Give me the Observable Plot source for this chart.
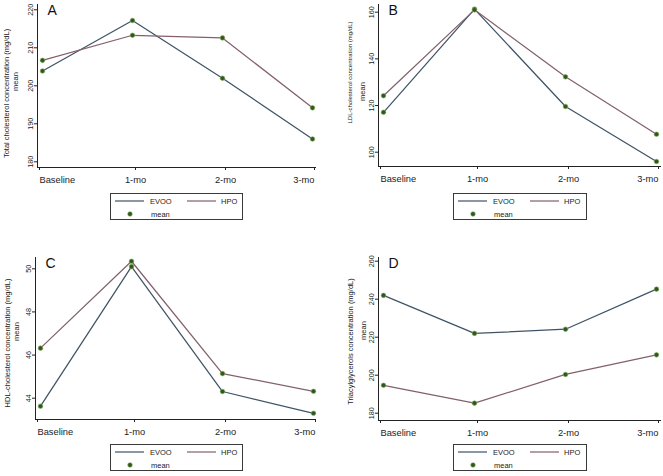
<!DOCTYPE html>
<html>
<head>
<meta charset="utf-8">
<script src="https://cdn.jsdelivr.net/npm/d3@7"></script>
<script src="https://cdn.jsdelivr.net/npm/@observablehq/plot@0.6"></script>
<style>
  html, body { margin: 0; padding: 0; background: #fff; }
  #root { position: relative; width: 663px; height: 476px; overflow: hidden; background: #fff; font-family: "Liberation Sans", Arial, sans-serif; }
  .panel { position: absolute; }
  .legend { position: absolute; border: 1px solid #3a3a3a; background: #fff; box-sizing: border-box; }
  .legend svg { position: absolute; left: 0; top: 0; }
</style>
</head>
<body>
<div id="root"></div>
<script>
// ---- Data ----
const times = ["Baseline", "1-mo", "2-mo", "3-mo"];
const seriesNames = ["EVOO", "HPO"];

const evooTotal = [203.9, 217.2, 202.0, 186.0];
const hpoTotal  = [206.7, 213.3, 212.6, 194.2];

const evooLDL = [117.1, 161.3, 119.6, 96.0];
const hpoLDL  = [124.2, 161.0, 132.3, 107.7];

const evooHDL = [43.63, 50.10, 44.31, 43.30];
const hpoHDL  = [46.32, 50.35, 45.14, 44.32];

const evooTG = [242.0, 222.0, 224.2, 245.3];
const hpoTG  = [194.7, 185.3, 200.4, 210.7];

const ticksTotal = [180, 190, 200, 210, 220];
const ticksLDL = [100, 120, 140, 160];
const ticksHDL = [44, 46, 48, 50];
const ticksTG = [180, 200, 220, 240, 260];

const titles = [
  "Total cholesterol concentration (mg/dL)",
  "LDL-cholesterol concentration (mg/dL)",
  "HDL-cholesterol concentration (mg/dL)",
  "Triacylglycerols concentration (mg/dL)"
];
const letters = ["A", "B", "C", "D"];
const meanLabel = "mean";

// ---- Styling ----
const colors = {EVOO: "#3f5466", HPO: "#83606c"};
const dotFill = "#2c5a1c";
const dotStroke = "#86a85a";
const font = "'Liberation Sans', Arial, sans-serif";

function toRows(evoo, hpo) {
  const rows = [];
  times.forEach((t, i) => rows.push({time: t, value: evoo[i], series: "EVOO"}));
  times.forEach((t, i) => rows.push({time: t, value: hpo[i], series: "HPO"}));
  return rows;
}

const panels = [
  {evoo: evooTotal, hpo: hpoTotal, ticks: ticksTotal, yDomain: [180, 220], yRange: [161.3, 9.3],
   left: 0, top: 0, width: 331, height: 195, mL: 37, mR: 16, mT: 4, mB: 28, xRange: [40.5, 313],
   titleSize: 7.5, titleDx: -31, titleDy: 7.5, meanDx: -22, meanDy: -4.5,
   legend: {left: 110, top: 193, width: 133, height: 27}},
  {evoo: evooLDL, hpo: hpoLDL, ticks: ticksLDL, yDomain: [100, 160], yRange: [151.7, 11.7],
   left: 330, top: 0, width: 333, height: 195, mL: 48, mR: 3, mT: 4, mB: 29, xRange: [53, 326],
   titleSize: 6, titleDx: -28, titleDy: -13, meanDx: -16, meanDy: 6,
   legend: {left: 453, top: 193, width: 134, height: 27}},
  {evoo: evooHDL, hpo: hpoHDL, ticks: ticksHDL, yDomain: [44, 50], yRange: [157.7, 28.3],
   left: 0, top: 240, width: 331, height: 207, mL: 35, mR: 16, mT: 17, mB: 28, xRange: [40, 313],
   titleSize: 7.5, titleDx: -28, titleDy: 4.5, meanDx: -19, meanDy: -7,
   legend: {left: 110, top: 444, width: 133, height: 27}},
  {evoo: evooTG, hpo: hpoTG, ticks: ticksTG, yDomain: [180, 260], yRange: [172.7, 20.7],
   left: 330, top: 240, width: 333, height: 208, mL: 48, mR: 3, mT: 17, mB: 28, xRange: [53, 326],
   titleSize: 7.5, titleDx: -28, titleDy: 2.5, meanDx: -15, meanDy: -8.5,
   legend: {left: 453, top: 444, width: 134, height: 27}}
];

const root = document.getElementById("root");

panels.forEach((p, k) => {
  const rows = toRows(p.evoo, p.hpo);
  const chart = Plot.plot({
    width: p.width,
    height: p.height,
    marginLeft: p.mL,
    marginRight: p.mR,
    marginTop: p.mT,
    marginBottom: p.mB,
    style: {fontFamily: font, color: "#222", background: "transparent", overflow: "visible"},
    x: {type: "point", domain: times, range: p.xRange, padding: 0, align: 0.5},
    y: {type: "linear", domain: p.yDomain, range: p.yRange},
    color: {domain: seriesNames, range: seriesNames.map(s => colors[s])},
    marks: [
      Plot.frame({anchor: "left", stroke: "#222", strokeWidth: 1}),
      Plot.frame({anchor: "bottom", stroke: "#222", strokeWidth: 1}),
      Plot.axisY({ticks: p.ticks, tickFormat: "d", tickSize: 3, tickPadding: 2, tickRotate: -90, fontSize: 7.2, label: null, stroke: "#222"}),
      Plot.axisX({ticks: [times[0]], tickSize: 3, tickPadding: 6, fontSize: 9.3, textAnchor: "start", dx: -3, label: null}),
      Plot.axisX({ticks: times.slice(1, -1), tickSize: 3, tickPadding: 6, fontSize: 9.3, dx: 3, label: null}),
      Plot.axisX({ticks: [times[times.length - 1]], tickSize: 3, tickPadding: 6, fontSize: 9.3, textAnchor: "end", dx: 2, label: null}),
      Plot.text([titles[k]], {frameAnchor: "left", textAnchor: "middle", lineAnchor: "middle", rotate: -90, fontSize: p.titleSize, dx: p.titleDx, dy: p.titleDy, fill: "#222"}),
      Plot.text([meanLabel], {frameAnchor: "left", textAnchor: "middle", lineAnchor: "middle", rotate: -90, fontSize: 7.5, dx: p.meanDx, dy: p.meanDy, fill: "#222"}),
      Plot.text([letters[k]], {frameAnchor: "top-left", fontSize: 14, dx: 10, dy: 1, lineAnchor: "top", textAnchor: "start", fill: "#111"}),
      Plot.line(rows, {x: "time", y: "value", z: "series", stroke: "series", strokeWidth: 1.25}),
      Plot.dot(rows, {x: "time", y: "value", r: 2.3, fill: dotFill, stroke: dotStroke, strokeWidth: 0.6})
    ]
  });
  const holder = document.createElement("div");
  holder.className = "panel";
  holder.style.left = p.left + "px";
  holder.style.top = p.top + "px";
  holder.appendChild(chart);
  root.appendChild(holder);

  // legend box below the plot
  const lg = document.createElement("div");
  lg.className = "legend";
  Object.assign(lg.style, {left: p.legend.left + "px", top: p.legend.top + "px", width: p.legend.width + "px", height: p.legend.height + "px"});
  const svg = d3.create("svg").attr("width", p.legend.width).attr("height", p.legend.height)
    .style("font-family", font).style("font-size", "7.5px");
  const items = [
    {name: "EVOO", x0: 4, x1: 33, tx: 39},
    {name: "HPO", x0: 76, x1: 105, tx: 110}
  ];
  items.forEach(it => {
    svg.append("line").attr("x1", it.x0).attr("x2", it.x1).attr("y1", 7).attr("y2", 7)
      .attr("stroke", colors[it.name]).attr("stroke-width", 1.2);
    svg.append("text").attr("x", it.tx).attr("y", 7).attr("dy", "0.35em").attr("fill", "#222").text(it.name);
  });
  svg.append("circle").attr("cx", 19).attr("cy", 20).attr("r", 2.3).attr("fill", dotFill).attr("stroke", dotStroke).attr("stroke-width", 0.6);
  svg.append("text").attr("x", 40).attr("y", 20).attr("dy", "0.35em").attr("fill", "#222").text(meanLabel);
  lg.appendChild(svg.node());
  root.appendChild(lg);
});
</script>
</body>
</html>
